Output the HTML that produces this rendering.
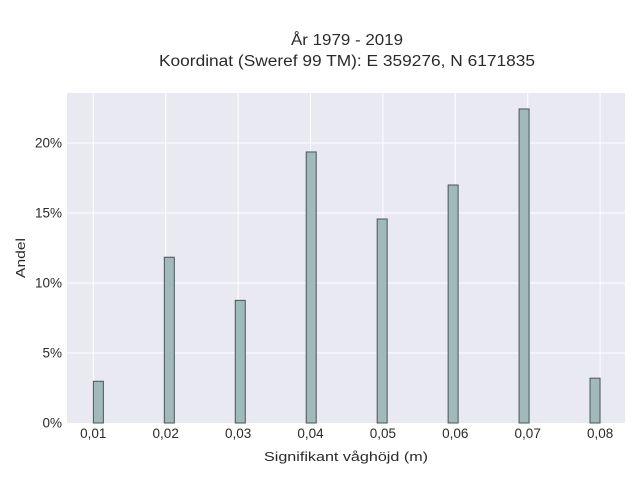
<!DOCTYPE html>
<html><head><meta charset="utf-8"><style>
body{margin:0;background:#fff;font-family:"Liberation Sans",sans-serif}
svg text{font-family:"Liberation Sans",sans-serif;fill:#2a2a2a}
</style></head><body>
<svg width="640" height="480">
<text x="347" y="45" text-anchor="middle" font-size="15.5" textLength="112" lengthAdjust="spacingAndGlyphs">År 1979 - 2019</text>
<text x="347" y="66" text-anchor="middle" font-size="15.5" textLength="376" lengthAdjust="spacingAndGlyphs">Koordinat (Sweref 99 TM): E 359276, N 6171835</text>
<rect x="67" y="93" width="558" height="330" fill="#e9e9f1"/>
<g id="grid"></g><g id="bars"></g><g id="ticks"></g>
<text x="346" y="461" text-anchor="middle" font-size="13" textLength="164" lengthAdjust="spacingAndGlyphs">Signifikant våghöjd (m)</text>
<text transform="translate(25,258) rotate(-90)" text-anchor="middle" font-size="13" textLength="40" lengthAdjust="spacingAndGlyphs">Andel</text>
</svg>
<script>
const binCenters=[0.0107,0.0205,0.0303,0.0401,0.0499,0.0597,0.0695,0.0793];
const shares=[2.98,11.84,8.76,19.36,14.57,17.0,22.43,3.2];
const xTicks=[0.01,0.02,0.03,0.04,0.05,0.06,0.07,0.08];
const xTickLabels=["0,01","0,02","0,03","0,04","0,05","0,06","0,07","0,08"];
const yTicks=[0,5,10,15,20];
const yTickLabels=["0%","5%","10%","15%","20%"];
const binWidth=0.00138;
const NS="http://www.w3.org/2000/svg";
const xs=v=>93.3+(v-0.01)*7240;
const ys=v=>423-v*14;
function mk(t,a,p){const e=document.createElementNS(NS,t);for(const k in a)e.setAttribute(k,a[k]);p.appendChild(e);return e;}
const g=document.getElementById('grid'),b=document.getElementById('bars'),tk=document.getElementById('ticks');
xTicks.forEach((v,i)=>{
 const l=mk('line',{x1:xs(v),x2:xs(v),y1:93,y2:423,stroke:'#fff','stroke-width':1},g);
 
 
 const t=mk('text',{x:xs(v),y:438,'text-anchor':'middle','font-size':13.5},tk);
 t.textContent=xTickLabels[i];
 
 
});
yTicks.forEach((v,i)=>{
 if(v>0){const l=mk('line',{x1:67,x2:625,y1:ys(v),y2:ys(v),stroke:'#fff','stroke-width':1},g);
 
 }
 const t=mk('text',{x:62,y:ys(v)+4.5,'text-anchor':'end','font-size':13.5},tk);
 t.textContent=yTickLabels[i];
 
 
});
binCenters.forEach((c,i)=>{
 const x0=xs(c-binWidth/2),x1=xs(c+binWidth/2);
 const r=mk('rect',{x:x0,y:ys(shares[i]),width:x1-x0,height:ys(0)-ys(shares[i]),fill:'#a0b9b9',stroke:'#4a5555','stroke-width':1},b);
 
 
});
</script>
</body></html>
